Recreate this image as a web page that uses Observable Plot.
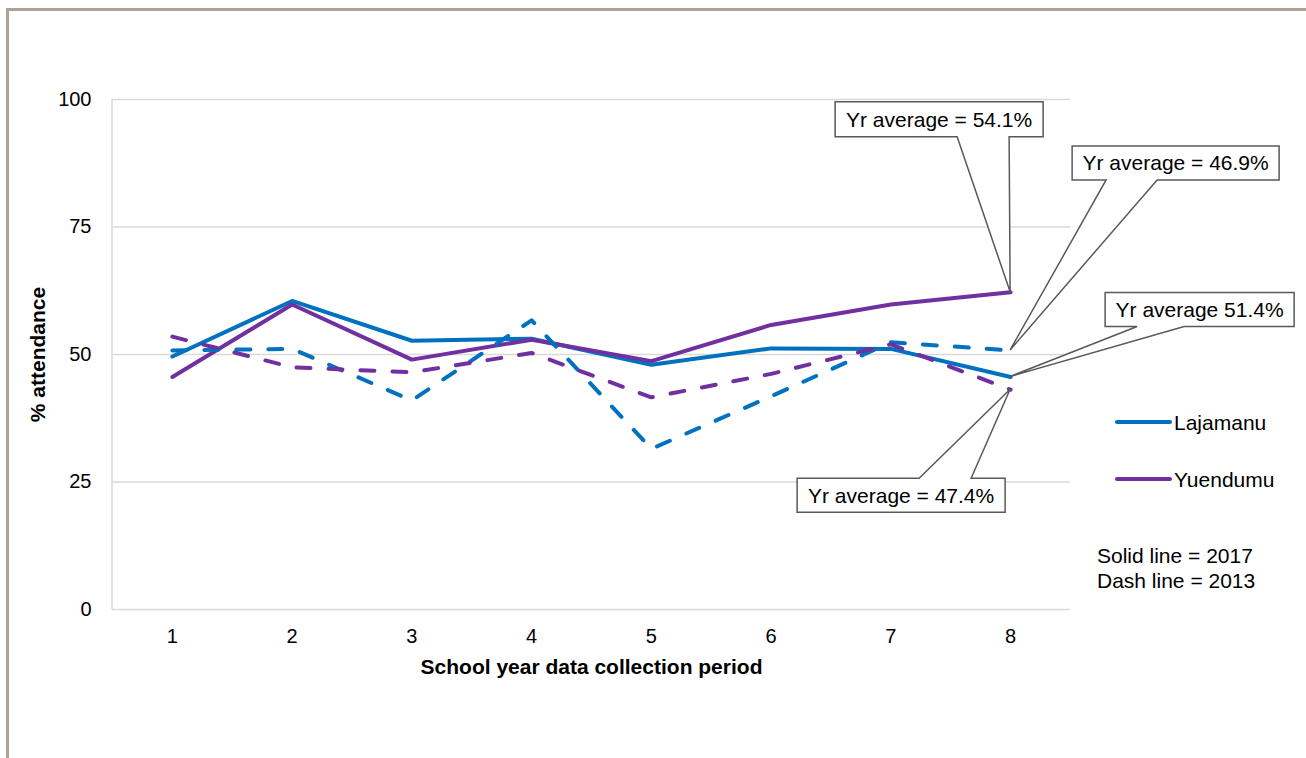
<!DOCTYPE html>
<html><head><meta charset="utf-8">
<script src="https://cdn.jsdelivr.net/npm/d3@7"></script>
<script src="https://cdn.jsdelivr.net/npm/@observablehq/plot@0.6"></script>
<style>
body{margin:0;background:#fff;}
#wrap{position:relative;width:1306px;height:758px;overflow:hidden;}
#wrap svg{display:block;}
#frame{position:absolute;left:6px;top:8px;right:-10px;bottom:-10px;border-top:3px solid #ada196;border-left:3px solid #ada196;pointer-events:none;}
</style></head><body><div id="wrap"><div id="frame"></div></div>
<script>
// ---- data ----
const periods = [1, 2, 3, 4, 5, 6, 7, 8];
const lajamanu2017 = [49.6, 60.5, 52.7, 53.1, 48.0, 51.2, 51.1, 45.6];
const yuendumu2017 = [45.6, 59.8, 49.0, 52.9, 48.7, 55.8, 59.8, 62.2];
const lajamanu2013 = [50.8, 51.1, 41.0, 56.7, 31.5, 41.8, 52.4, 50.8];
const yuendumu2013 = [53.5, 47.5, 46.5, 50.3, 41.6, 46.2, 52.0, 43.1];
const yTicks = [0, 25, 50, 75, 100];
const communities = ["Lajamanu", "Yuendumu"];
const communityColors = ["#0070C0", "#7030A0"];
const calloutLabels = ["Yr average = 54.1%", "Yr average = 46.9%", "Yr average 51.4%", "Yr average = 47.4%"];
const calloutSeries = ["Yuendumu 2017", "Lajamanu 2013", "Lajamanu 2017", "Yuendumu 2013"];
const noteLines = ["Solid line = 2017", "Dash line = 2013"];
const xTitle = "School year data collection period";
const yTitle = "% attendance";

const series = [
  {name: "Lajamanu 2017", community: "Lajamanu", year: "2017", values: lajamanu2017},
  {name: "Yuendumu 2017", community: "Yuendumu", year: "2017", values: yuendumu2017},
  {name: "Lajamanu 2013", community: "Lajamanu", year: "2013", values: lajamanu2013},
  {name: "Yuendumu 2013", community: "Yuendumu", year: "2013", values: yuendumu2013}
];
const rows = series.flatMap(s => periods.map((p, i) => ({series: s.name, community: s.community, year: s.year, period: p, value: s.values[i]})));

// ---- layout (pixel offsets of callout boxes relative to their anchor point) ----
const calloutLayout = [
  {box: [-175, -190, 208, 35], wedge: [-53, -1], side: "bottom"},
  {box: [62, -204, 207, 34], wedge: [96, 147], side: "bottom"},
  {box: [95, -84, 189, 34], wedge: [127, 174], side: "bottom"},
  {box: [-213, 89, 208, 34], wedge: [-91, -39], side: "top"}
];
const FONT = "'Liberation Sans', Arial, sans-serif";

function leftAxisLine(index, scales, values, dim) {
  const g = d3.create("svg:g");
  g.append("line")
    .attr("x1", dim.marginLeft).attr("x2", dim.marginLeft)
    .attr("y1", dim.marginTop).attr("y2", dim.height - dim.marginBottom)
    .attr("stroke", "#d9d9d9").attr("stroke-width", 1.5);
  return g.node();
}

function callouts(index, scales, values, dim) {
  const g = d3.create("svg:g");
  const lastPeriod = periods[periods.length - 1];
  calloutLabels.forEach((label, i) => {
    const s = series.find(d => d.name === calloutSeries[i]);
    const px = scales.x(lastPeriod);
    const py = scales.y(s.values[s.values.length - 1]);
    const L = calloutLayout[i];
    const left = px + L.box[0], top = py + L.box[1], w = L.box[2], h = L.box[3];
    const right = left + w, bottom = top + h;
    const w1 = px + L.wedge[0], w2 = px + L.wedge[1];
    let d;
    if (L.side === "bottom") {
      d = `M${left},${top}H${right}V${bottom}H${w2}L${px},${py}L${w1},${bottom}H${left}Z`;
    } else {
      d = `M${left},${top}H${w1}L${px},${py}L${w2},${top}H${right}V${bottom}H${left}Z`;
    }
    g.append("path").attr("d", d).attr("fill", "#fff").attr("stroke", "#595959")
      .attr("stroke-width", 1.5).attr("stroke-linejoin", "miter");
    g.append("text").attr("x", left + w / 2).attr("y", top + h / 2).attr("dy", "0.36em")
      .attr("text-anchor", "middle").attr("font-size", 21).attr("font-family", FONT)
      .attr("fill", "#000").text(label);
  });
  return g.node();
}

function legend(index, scales, values, dim) {
  const g = d3.create("svg:g").attr("font-family", FONT).attr("font-size", 21)
    .attr("fill", "#000").attr("text-anchor", "start");
  const x0 = dim.width - dim.marginRight + 47;
  const ys = [422, 479];
  communities.forEach((c, i) => {
    g.append("line").attr("x1", x0).attr("x2", x0 + 53).attr("y1", ys[i]).attr("y2", ys[i])
      .attr("stroke", communityColors[i]).attr("stroke-width", 4).attr("stroke-linecap", "round");
    g.append("text").attr("x", x0 + 57).attr("y", ys[i]).attr("dy", "0.36em").text(c);
  });
  noteLines.forEach((t, i) => {
    g.append("text").attr("x", x0 - 20).attr("y", 555 + i * 25).attr("dy", "0.36em").text(t);
  });
  return g.node();
}

const chart = Plot.plot({
  width: 1306,
  height: 758,
  marginLeft: 112,
  marginRight: 236,
  marginTop: 99,
  marginBottom: 149,
  style: {fontFamily: FONT, fontSize: "20px", color: "#000", background: "transparent"},
  x: {type: "point", domain: periods, padding: 0.5, round: false},
  y: {domain: [0, 100]},
  color: {domain: communities, range: communityColors},
  marks: [
    Plot.gridY(yTicks, {stroke: "#d9d9d9", strokeOpacity: 1, strokeWidth: 1.5}),
    leftAxisLine,
    Plot.axisY(yTicks, {tickSize: 0, tickPadding: 21, fontSize: 20, label: null}),
    Plot.axisX(periods, {tickSize: 0, tickPadding: 19, fontSize: 20, label: null}),
    Plot.lineY(rows.filter(d => d.year === "2017"), {x: "period", y: "value", z: "series", stroke: "community", strokeWidth: 4, strokeLinejoin: "round"}),
    Plot.lineY(rows.filter(d => d.year === "2013"), {x: "period", y: "value", z: "series", stroke: "community", strokeWidth: 4, strokeDasharray: "14,18", strokeLinecap: "round"}),
    Plot.text([xTitle], {frameAnchor: "bottom", lineAnchor: "middle", textAnchor: "middle", dy: 58, fontSize: 21, fontWeight: "bold", fill: "#000"}),
    Plot.text([yTitle], {frameAnchor: "left", lineAnchor: "middle", textAnchor: "middle", rotate: -90, dx: -74, fontSize: 21, fontWeight: "bold", fill: "#000"}),
    callouts,
    legend
  ]
});
document.getElementById("wrap").prepend(chart);
</script>
</body></html>
